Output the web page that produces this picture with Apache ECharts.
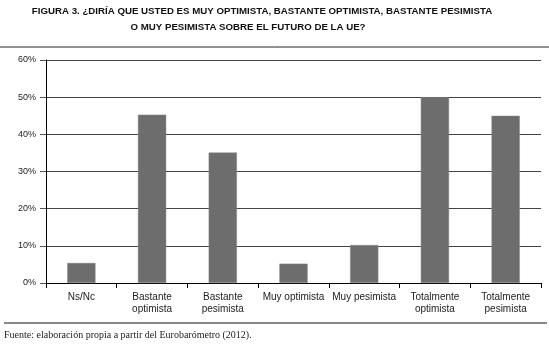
<!DOCTYPE html>
<html><head><meta charset="utf-8">
<script src="https://cdn.jsdelivr.net/npm/echarts@6/dist/echarts.min.js"></script>
<style>html,body{margin:0;padding:0;background:#fff}#c{width:549px;height:348px}</style>
</head><body><div id="c"></div>
<script>
var categories = ['Ns/Nc', 'Bastante\noptimista', 'Bastante\npesimista', 'Muy optimista', 'Muy pesimista', 'Totalmente\noptimista', 'Totalmente\npesimista'];
var values = [5.4, 45.3, 35.1, 5.2, 10.2, 50, 45];
var yTicks = [0, 10, 20, 30, 40, 50, 60];
var titleLine1 = 'FIGURA 3. ¿DIRÍA QUE USTED ES MUY OPTIMISTA, BASTANTE OPTIMISTA, BASTANTE PESIMISTA';
var titleLine2 = 'O MUY PESIMISTA SOBRE EL FUTURO DE LA UE?';
var source = 'Fuente: elaboración propia a partir del Eurobarómetro (2012).';

var chart = echarts.init(document.getElementById('c'), null, {renderer: 'canvas'});
chart.setOption({
  animation: false,
  backgroundColor: '#fff',
  grid: {left: 46, right: 8, top: 60, bottom: 65, containLabel: false},
  xAxis: {
    type: 'category', data: categories,
    axisLine: {lineStyle: {color: '#000', width: 1}},
    axisTick: {show: true, length: 5, lineStyle: {color: '#000'}},
    axisLabel: {color: '#222', fontFamily: 'Liberation Sans', fontSize: 10, lineHeight: 12, margin: 8, interval: 0}
  },
  yAxis: {
    type: 'value', min: yTicks[0], max: yTicks[yTicks.length - 1], interval: 10,
    axisLine: {show: true, lineStyle: {color: '#000', width: 1}},
    axisTick: {show: true, length: 6, lineStyle: {color: '#555'}},
    axisLabel: {color: '#222', fontFamily: 'Liberation Sans', fontSize: 9, margin: 10, formatter: '{value}%'},
    splitLine: {show: true, lineStyle: {color: '#444', width: 1}}
  },
  series: [{
    type: 'bar', data: values, barWidth: '40%',
    itemStyle: {color: '#6d6d6d', borderColor: '#8a8a8a', borderWidth: 0.5}
  }],
  graphic: [
    {type: 'text', x: 262, y: 11, style: {text: titleLine1, fill: '#111', font: 'bold 9.7px "Liberation Sans"', textAlign: 'center', textVerticalAlign: 'middle'}},
    {type: 'text', x: 248, y: 27, style: {text: titleLine2, fill: '#111', font: 'bold 9.7px "Liberation Sans"', textAlign: 'center', textVerticalAlign: 'middle'}},
    {type: 'line', shape: {x1: 0, y1: 47, x2: 549, y2: 47}, style: {stroke: '#222', lineWidth: 1}},
    {type: 'line', shape: {x1: 4, y1: 323, x2: 547, y2: 323}, style: {stroke: '#888', lineWidth: 2}},
    {type: 'text', x: 4, y: 335, style: {text: source, fill: '#222', font: '10px "Liberation Serif"', textAlign: 'left', textVerticalAlign: 'middle'}}
  ]
});
</script></body></html>
